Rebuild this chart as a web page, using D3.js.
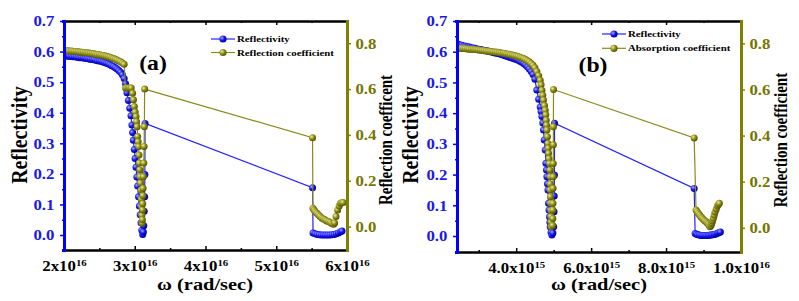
<!DOCTYPE html>
<html>
<head>
<meta charset="utf-8">
<script src="https://cdn.jsdelivr.net/npm/d3@7"></script>
<style>
  body { margin: 0; background: #fff; }
  svg { display: block; }
</style>
</head>
<body>
<svg width="799" height="301"></svg>
<script>
// ---------- data, panel (a): omega in units of 1e16 rad/sec ----------
const aReflOmega = [
  2.000, 2.025, 2.050, 2.075, 2.100, 2.125, 2.150, 2.175, 2.200, 2.225,
  2.250, 2.275, 2.300, 2.325, 2.350, 2.375, 2.400, 2.425, 2.450, 2.475,
  2.500, 2.525, 2.550, 2.575, 2.600, 2.625, 2.650, 2.675, 2.700, 2.725,
  2.750, 2.775, 2.800, 2.825, 2.850,
  2.870, 2.890, 2.910, 2.930, 2.947, 2.960, 2.970, 2.980, 2.994, 3.005,
  3.018, 3.030, 3.041, 3.053, 3.065, 3.077, 3.089, 3.100, 3.112,
  3.122, 3.128, 3.134, 3.140, 3.143, 3.146,
  5.513, 5.520, 5.550, 5.580, 5.610, 5.640, 5.670, 5.700, 5.730, 5.760,
  5.790, 5.820, 5.850, 5.880, 5.910, 5.930
];
const aReflValue = [
  0.586, 0.586, 0.585, 0.585, 0.584, 0.583, 0.583, 0.582, 0.581, 0.580,
  0.580, 0.579, 0.578, 0.577, 0.576, 0.575, 0.574, 0.573, 0.572, 0.570,
  0.569, 0.568, 0.566, 0.564, 0.562, 0.560, 0.557, 0.554, 0.551, 0.547,
  0.543, 0.538, 0.532, 0.524, 0.512,
  0.495, 0.465, 0.440, 0.415, 0.390, 0.360, 0.335, 0.310, 0.280, 0.250,
  0.222, 0.190, 0.160, 0.125, 0.095, 0.066, 0.040, 0.016, 0.002,
  0.010, 0.030, 0.078, 0.125, 0.198, 0.365,
  0.155, 0.007, 0.004, 0.002, 0.001, 0.000, 0.000, 0.000, 0.000, 0.000,
  0.001, 0.002, 0.004, 0.007, 0.011, 0.013
];
const aCoefOmega = [
  2.000, 2.025, 2.050, 2.075, 2.100, 2.125, 2.150, 2.175, 2.200, 2.225,
  2.250, 2.275, 2.300, 2.325, 2.350, 2.375, 2.400, 2.425, 2.450, 2.475,
  2.500, 2.525, 2.550, 2.575, 2.600, 2.625, 2.650, 2.675, 2.700, 2.725,
  2.750, 2.775, 2.800, 2.825, 2.850,
  2.870, 2.890, 2.910, 2.930, 2.950, 2.970, 2.982, 2.994, 3.006, 3.018,
  3.026, 3.033, 3.041, 3.048, 3.055, 3.060, 3.065, 3.070, 3.075,
  3.082, 3.088, 3.092, 3.096, 3.100, 3.105,
  3.108, 3.111, 3.113, 3.116, 3.118, 3.122, 3.128, 3.132, 3.136, 3.140,
  5.513, 5.518, 5.535, 5.551, 5.575, 5.598, 5.620, 5.646, 5.670, 5.693,
  5.715, 5.740, 5.765, 5.788, 5.810, 5.825, 5.845, 5.868, 5.890, 5.906,
  5.925, 5.945
];
const aCoefValue = [
  0.768, 0.767, 0.767, 0.766, 0.766, 0.765, 0.764, 0.764, 0.763, 0.762,
  0.761, 0.760, 0.759, 0.758, 0.757, 0.756, 0.755, 0.754, 0.752, 0.751,
  0.750, 0.748, 0.747, 0.745, 0.743, 0.741, 0.739, 0.736, 0.733, 0.730,
  0.727, 0.723, 0.719, 0.714, 0.708,
  0.605, 0.605, 0.605, 0.605, 0.605, 0.582, 0.553, 0.524, 0.500, 0.480,
  0.458, 0.436, 0.393, 0.370, 0.349, 0.312, 0.277, 0.248, 0.218,
  0.190, 0.160, 0.120, 0.087, 0.050, 0.015,
  0.030, 0.073, 0.100, 0.135, 0.167, 0.218, 0.277, 0.350, 0.436, 0.600,
  0.388, 0.080, 0.072, 0.065, 0.058, 0.051, 0.044, 0.037, 0.033, 0.029,
  0.025, 0.022, 0.018, 0.013, 0.010, 0.016, 0.044, 0.073, 0.090, 0.102,
  0.104, 0.105
];

// ---------- data, panel (b): omega in units of 1e15 rad/sec ----------
const bReflOmega = [
  2.45, 2.50, 2.55, 2.60, 2.65, 2.70, 2.75, 2.80, 2.85, 2.90,
  2.95, 3.00, 3.05, 3.10, 3.15, 3.20, 3.25, 3.30, 3.35, 3.40,
  3.45, 3.50, 3.55, 3.60, 3.65, 3.70, 3.75, 3.80, 3.85, 3.90,
  3.95, 4.00, 4.05, 4.10, 4.15, 4.20, 4.25, 4.30, 4.35, 4.40,
  4.45, 4.50, 4.55,
  4.600, 4.641, 4.665, 4.687, 4.710, 4.729, 4.748, 4.775, 4.793, 4.808,
  4.820, 4.835, 4.848, 4.863, 4.876, 4.889, 4.900, 4.908, 4.930, 4.953,
  4.980, 5.000, 5.010, 5.015, 5.020, 5.023,
  8.750, 8.776, 8.810, 8.850, 8.890, 8.930, 8.970, 9.010, 9.050, 9.090,
  9.130, 9.170, 9.210, 9.250, 9.290, 9.330, 9.370, 9.410, 9.450
];
const bReflValue = [
  0.624, 0.622, 0.621, 0.619, 0.618, 0.616, 0.615, 0.613, 0.612, 0.611,
  0.609, 0.608, 0.607, 0.606, 0.604, 0.603, 0.602, 0.600, 0.599, 0.597,
  0.596, 0.594, 0.593, 0.591, 0.589, 0.587, 0.585, 0.583, 0.581, 0.579,
  0.577, 0.575, 0.572, 0.569, 0.566, 0.562, 0.557, 0.551, 0.544, 0.536,
  0.526, 0.510, 0.475,
  0.445, 0.420, 0.405, 0.389, 0.368, 0.345, 0.313, 0.280, 0.237, 0.215,
  0.193, 0.170, 0.150, 0.107, 0.085, 0.063, 0.045, 0.030, 0.012, 0.003,
  0.010, 0.030, 0.079, 0.130, 0.199, 0.367,
  0.155, 0.008, 0.006, 0.004, 0.003, 0.002, 0.002, 0.002, 0.002, 0.002,
  0.002, 0.003, 0.003, 0.004, 0.005, 0.007, 0.009, 0.011, 0.013
];
const bCoefOmega = [
  2.45, 2.50, 2.55, 2.60, 2.65, 2.70, 2.75, 2.80, 2.85, 2.90,
  2.95, 3.00, 3.05, 3.10, 3.15, 3.20, 3.25, 3.30, 3.35, 3.40,
  3.45, 3.50, 3.55, 3.60, 3.65, 3.70, 3.75, 3.80, 3.85, 3.90,
  3.95, 4.00, 4.05, 4.10, 4.15, 4.20, 4.25, 4.30, 4.35, 4.40,
  4.45, 4.50, 4.55, 4.60,
  4.641, 4.665, 4.687, 4.710, 4.729, 4.755, 4.775, 4.790, 4.801, 4.810,
  4.820, 4.835, 4.847, 4.855, 4.863, 4.876, 4.889, 4.900, 4.908, 4.908,
  4.910, 4.915, 4.920, 4.925, 4.927, 4.930, 4.935,
  4.975, 4.978, 4.980, 4.982, 4.985, 4.988, 4.990, 4.992, 4.993, 4.996,
  8.750, 8.800, 8.830, 8.863, 8.895, 8.927, 8.960, 8.996, 9.030, 9.068,
  9.100, 9.129, 9.150, 9.175, 9.200, 9.220, 9.240, 9.263, 9.285, 9.308,
  9.340, 9.369, 9.395, 9.423
];
const bCoefValue = [
  0.780, 0.779, 0.778, 0.778, 0.777, 0.776, 0.775, 0.774, 0.774, 0.773,
  0.772, 0.771, 0.770, 0.769, 0.768, 0.767, 0.766, 0.765, 0.764, 0.763,
  0.762, 0.761, 0.760, 0.758, 0.757, 0.756, 0.754, 0.753, 0.751, 0.749,
  0.747, 0.745, 0.743, 0.740, 0.737, 0.734, 0.730, 0.725, 0.720, 0.713,
  0.705, 0.694, 0.678, 0.660,
  0.640, 0.620, 0.597, 0.575, 0.554, 0.530, 0.510, 0.490, 0.467, 0.445,
  0.424, 0.395, 0.366, 0.345, 0.323, 0.300, 0.279, 0.250, 0.221, 0.190,
  0.164, 0.135, 0.106, 0.075, 0.048, 0.025, 0.004,
  0.010, 0.040, 0.077, 0.106, 0.171, 0.221, 0.279, 0.360, 0.438, 0.600,
  0.390, 0.077, 0.070, 0.062, 0.055, 0.048, 0.042, 0.036, 0.031, 0.026,
  0.021, 0.016, 0.010, 0.004, 0.010, 0.019, 0.030, 0.041, 0.055, 0.069,
  0.082, 0.094, 0.101, 0.106
];

// ---------- ticks and labels ----------
const aXTicks = [2, 3, 4, 5, 6];
const aXMinor = [2.5, 3.5, 4.5, 5.5];
const aXMant = ["2x10", "3x10", "4x10", "5x10", "6x10"];
const aXExp = ["16", "16", "16", "16", "16"];
const bXTicks = [4, 6, 8, 10];
const bXMinor = [3, 5, 7, 9];
const bXMant = ["4.0x10", "6.0x10", "8.0x10", "1.0x10"];
const bXExp = ["15", "15", "15", "16"];
const leftTicks = [0, 0.1, 0.2, 0.3, 0.4, 0.5, 0.6, 0.7];
const leftMinor = [0.05, 0.15, 0.25, 0.35, 0.45, 0.55, 0.65];
const rightTicks = [0, 0.2, 0.4, 0.6, 0.8];
const rightMinor = [0.1, 0.3, 0.5, 0.7];
const aLegend = ["Reflectivity", "Reflection coefficient"];
const bLegend = ["Reflectivity", "Absorption coefficient"];

// colours and font
const blue = "#0000ff", blueText = "#1a1ae6", blueLine = "#2222ff";
const olive = "#808000", oliveText = "#767600", oliveLine = "#8a8a1e";
const serif = "'Liberation Serif', 'Times New Roman', 'DejaVu Serif', serif";

const svg = d3.select("svg");
const defs = svg.append("defs");

// shaded "ball" markers
function ballGradient(id, light, mid, dark) {
  const g = defs.append("radialGradient").attr("id", id)
    .attr("cx", "35%").attr("cy", "35%").attr("r", "65%");
  g.append("stop").attr("offset", "0%").attr("stop-color", light);
  g.append("stop").attr("offset", "55%").attr("stop-color", mid);
  g.append("stop").attr("offset", "100%").attr("stop-color", dark);
}
ballGradient("ballBlue", "#a8a8ff", "#1414f0", "#0000a0");
ballGradient("ballOlive", "#ecec98", "#8c8c14", "#565600");

const panels = [
  {
    id: "a", frame: { left: 64, right: 347, top: 21, bottom: 250 },
    xDomain: [2, 6], leftDomain: [-0.049, 0.7], rightDomain: [-0.102, 0.897],
    xTicks: aXTicks, xMinor: aXMinor, xMant: aXMant, xExp: aXExp,
    refl: [aReflOmega, aReflValue], coef: [aCoefOmega, aCoefValue],
    legend: aLegend, legendX: 211, legendY: 39, legendGap: 13.5,
    tag: "(a)", tagX: 153, tagY: 70,
    rightTitle: "Reflection coefficent",
    yTitleX: 27, yrTitleX: 392, xTitleX: 205
  },
  {
    id: "b", frame: { left: 457, right: 741, top: 21, bottom: 252 },
    xDomain: [2.42, 10], leftDomain: [-0.052, 0.7], rightDomain: [-0.105, 0.897],
    xTicks: bXTicks, xMinor: bXMinor, xMant: bXMant, xExp: bXExp,
    refl: [bReflOmega, bReflValue], coef: [bCoefOmega, bCoefValue],
    legend: bLegend, legendX: 602, legendY: 34, legendGap: 14.3,
    tag: "(b)", tagX: 593, tagY: 72,
    rightTitle: "Reflection coefficient",
    yTitleX: 418, yrTitleX: 787, xTitleX: 599
  }
];

// text helper: the original lettering is slightly wide, so stretch it a bit
function label(g, x, y, txt, size, color, anchor, rotate, stretch) {
  const k = stretch || 1.2;
  const tf = rotate
    ? `translate(${x},${y}) rotate(${rotate}) scale(1,${k})`
    : `translate(${x},${y}) scale(${k},1)`;
  return g.append("text")
    .attr("transform", tf)
    .attr("text-anchor", anchor || "start")
    .attr("font-size", size)
    .attr("fill", color || "#000")
    .text(txt);
}

panels.forEach(p => {
  const f = p.frame;
  const g = svg.append("g");

  const x = d3.scaleLinear().domain(p.xDomain).range([f.left, f.right]);
  const yL = d3.scaleLinear().domain(p.leftDomain).range([f.bottom, f.top]);
  const yR = d3.scaleLinear().domain(p.rightDomain).range([f.bottom, f.top]);

  // clip marks to plot area
  defs.append("clipPath").attr("id", "clip" + p.id)
    .append("rect").attr("x", f.left).attr("y", f.top)
    .attr("width", f.right - f.left).attr("height", f.bottom - f.top);
  const plot = g.append("g").attr("clip-path", `url(#clip${p.id})`);

  const series = [
    { om: p.refl[0], val: p.refl[1], y: yL, line: blueLine, ball: "url(#ballBlue)" },
    { om: p.coef[0], val: p.coef[1], y: yR, line: oliveLine, ball: "url(#ballOlive)" }
  ];

  series.forEach(s => {
    const pts = s.om.map((o, i) => [o, s.val[i]]);
    plot.append("path")
      .attr("d", d3.line().x(d => x(d[0])).y(d => s.y(d[1]))(pts))
      .attr("fill", "none").attr("stroke", s.line).attr("stroke-width", 1.2);
    plot.selectAll(null).data(pts).join("circle")
      .attr("cx", d => x(d[0])).attr("cy", d => s.y(d[1]))
      .attr("r", 3.5).attr("fill", s.ball);
  });

  // bottom axis, inward ticks with superscript labels
  const bottom = g.append("g").attr("transform", `translate(0,${f.bottom})`)
    .call(d3.axisBottom(x).tickValues(p.xTicks).tickSizeInner(-4).tickSizeOuter(0).tickPadding(11));
  bottom.append("g")
    .call(d3.axisBottom(x).tickValues(p.xMinor).tickSize(-2).tickFormat(""));
  bottom.selectAll("path.domain").attr("stroke", "#000").attr("stroke-width", 2);
  bottom.selectAll("line").attr("stroke", "#000").attr("stroke-width", 1.5);
  bottom.selectAll(".tick text").each(function (d) {
    const t = d3.select(this).text("")
      .attr("font-size", 14).attr("fill", "#000").attr("transform", "scale(1.2,1)");
    const k = p.xTicks.indexOf(d);
    if (k < 0) return;
    t.append("tspan").text(p.xMant[k]);
    t.append("tspan").attr("dy", -5).attr("font-size", 9).text(p.xExp[k]);
  });

  // top axis, inward ticks
  const top = g.append("g").attr("transform", `translate(0,${f.top})`)
    .call(d3.axisTop(x).tickValues(p.xTicks).tickSizeInner(-4).tickSizeOuter(0).tickFormat(""));
  top.append("g").call(d3.axisTop(x).tickValues(p.xMinor).tickSize(-2).tickFormat(""));
  top.selectAll("path.domain").attr("stroke", "#000").attr("stroke-width", 2);
  top.selectAll("line").attr("stroke", "#000").attr("stroke-width", 1.5);

  // left axis (blue)
  const left = g.append("g").attr("transform", `translate(${f.left},0)`)
    .call(d3.axisLeft(yL).tickValues(leftTicks).tickSize(4).tickSizeOuter(0)
      .tickPadding(4).tickFormat(d3.format(".1f")));
  left.append("g").call(d3.axisLeft(yL).tickValues(leftMinor).tickSize(2).tickFormat(""));
  left.selectAll("path.domain").attr("stroke", blue).attr("stroke-width", 3);
  left.selectAll("line").attr("stroke", blue).attr("stroke-width", 1.5);
  left.selectAll(".tick text").attr("font-size", 14).attr("fill", blueText)
    .attr("dy", "0.34em").attr("transform", "scale(1.2,1)");

  // right axis (olive)
  const right = g.append("g").attr("transform", `translate(${f.right},0)`)
    .call(d3.axisRight(yR).tickValues(rightTicks).tickSize(4).tickSizeOuter(0)
      .tickPadding(3).tickFormat(d3.format(".1f")));
  right.append("g").call(d3.axisRight(yR).tickValues(rightMinor).tickSize(2).tickFormat(""));
  right.selectAll("path.domain").attr("stroke", olive).attr("stroke-width", 3);
  right.selectAll("line").attr("stroke", olive).attr("stroke-width", 1.5);
  right.selectAll(".tick text").attr("font-size", 14).attr("fill", oliveText)
    .attr("dy", "0.34em").attr("transform", "scale(1.2,1)");

  // axis titles
  label(g, p.yTitleX, 135, "Reflectivity", 20, "#000", "middle", -90);
  label(g, p.yrTitleX, 140, p.rightTitle, 15, "#000", "middle", -90);
  label(g, p.xTitleX, 290, "ω (rad/sec)", 17, "#000", "middle");

  // panel tag
  label(g, p.tagX, p.tagY, p.tag, 22, "#000", "middle", 0, 1.08);

  // legend
  const legendStyles = [
    { line: blueLine, ball: "url(#ballBlue)" },
    { line: oliveLine, ball: "url(#ballOlive)" }
  ];
  p.legend.forEach((name, i) => {
    const ly = p.legendY + i * p.legendGap;
    g.append("line").attr("x1", p.legendX).attr("x2", p.legendX + 24)
      .attr("y1", ly).attr("y2", ly)
      .attr("stroke", legendStyles[i].line).attr("stroke-width", 1.2);
    g.append("circle").attr("cx", p.legendX + 12).attr("cy", ly).attr("r", 3.6)
      .attr("fill", legendStyles[i].ball);
    label(g, p.legendX + 26, ly + 3, name, 9, "#000", "start");
  });
});

// all lettering in a bold Times-like face
svg.selectAll("text")
  .style("font-family", serif)
  .style("font-weight", "bold");
</script>
</body>
</html>
